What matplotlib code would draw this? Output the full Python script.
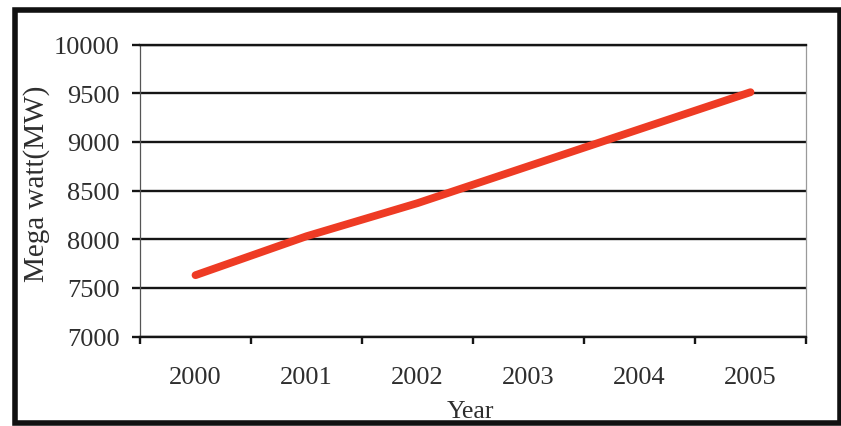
import matplotlib
matplotlib.use("Agg")
import matplotlib.pyplot as plt
from matplotlib.patches import Rectangle

# Installed generating capacity per year
years = ["2000", "2001", "2002", "2003", "2004", "2005"]
capacity_mw = [7630, 8030, 8370, 8750, 9130, 9510]
y_ticks = [7000, 7500, 8000, 8500, 9000, 9500, 10000]

W, H = 841, 427
fig = plt.figure(figsize=(W / 100, H / 100), dpi=100)
fig.patch.set_facecolor("white")

plt.rcParams["font.family"] = ["Liberation Serif", "DejaVu Serif"]
text_color = "#2e2e2e"

# Plot area in pixel terms
left, right, top, bottom = 140, 806, 45.5, 337.5
ax = fig.add_axes([left / W, 1 - bottom / H, (right - left) / W, (bottom - top) / H])

x = list(range(len(years)))
ax.plot(x, capacity_mw, color="#EE3B24", lw=5.6, solid_capstyle="round",
        solid_joinstyle="round", zorder=3)

ax.set_xlim(-0.5, len(years) - 0.5)
ax.set_ylim(y_ticks[0], y_ticks[-1])

# Horizontal gridlines
ax.set_yticks(y_ticks)
ax.yaxis.grid(True, color="#151515", lw=1.7)
ax.set_axisbelow(True)

# Category labels at centres, tick marks at boundaries
ax.set_xticks(x)
ax.set_xticklabels(years)
ax.set_xticks([i - 0.5 for i in range(len(years) + 1)], minor=True)
ax.tick_params(axis="x", which="major", length=0, pad=21, labelsize=19,
               labelcolor=text_color)
ax.tick_params(axis="x", which="minor", length=5, width=1.7, color="#151515",
               direction="out")
ax.tick_params(axis="y", length=5.5, width=1.7, color="#151515", pad=9,
               labelsize=19, labelcolor=text_color)

ax.spines["left"].set_color("#555555")
ax.spines["left"].set_linewidth(0.9)
ax.spines["right"].set_color("#9a9a9a")
ax.spines["right"].set_linewidth(0.9)
for side in ("top", "bottom"):
    ax.spines[side].set_color("#151515")
    ax.spines[side].set_linewidth(1.7)

# Axis titles
fig.text(37 / W, 1 - 183.5 / H, "Mega watt(MW)", rotation=90, ha="center",
         va="center", fontsize=21, color=text_color)
fig.text(470 / W, 1 - 418 / H, "Year", ha="center", va="baseline",
         fontsize=18.5, color=text_color)

# Outer frame
frame = Rectangle((15.5 / W, 1 - 423.5 / H), (840 - 15.5) / W, (423.5 - 11) / H,
                  transform=fig.transFigure, fill=False, edgecolor="#111111",
                  lw=4.0, clip_on=False)
fig.patches.append(frame)

fig.savefig("out.png", dpi=100, facecolor="white")
